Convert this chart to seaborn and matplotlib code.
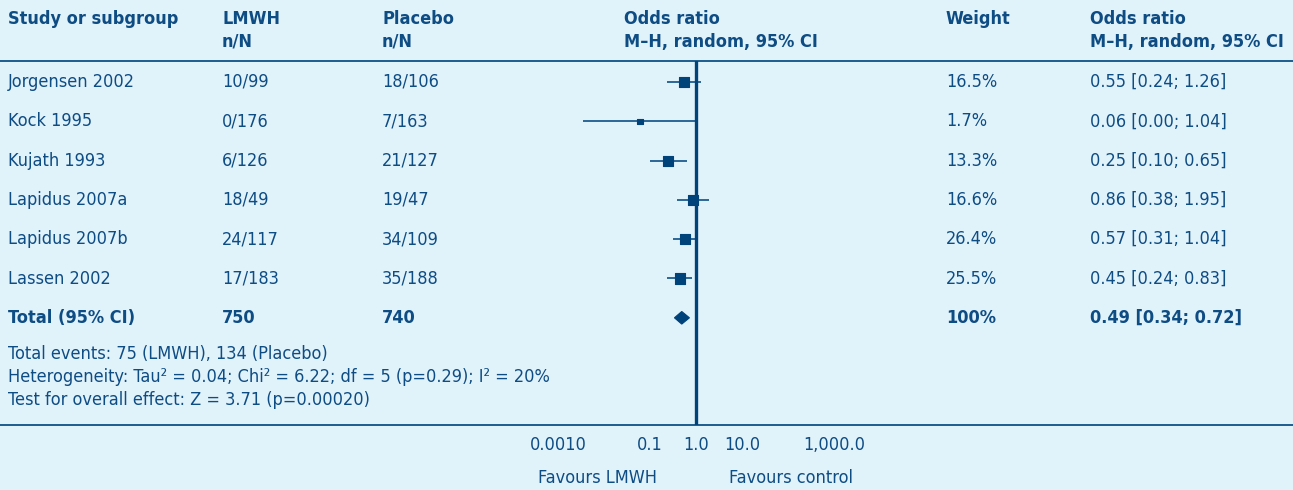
import numpy as np
import pandas as pd
import matplotlib
matplotlib.use("Agg")
import matplotlib.pyplot as plt
from matplotlib.patches import Polygon
from matplotlib import font_manager
import seaborn as sns

# Study-level data
studies = ["Jorgensen 2002", "Kock 1995", "Kujath 1993", "Lapidus 2007a", "Lapidus 2007b", "Lassen 2002"]
lmwh = ["10/99", "0/176", "6/126", "18/49", "24/117", "17/183"]
placebo = ["18/106", "7/163", "21/127", "19/47", "34/109", "35/188"]
odds = [0.55, 0.06, 0.25, 0.86, 0.57, 0.45]
ci_low = [0.24, 0.0035, 0.10, 0.38, 0.31, 0.24]
ci_high = [1.26, 1.04, 0.65, 1.95, 1.04, 0.83]
ci_low_label = ["0.24", "0.00", "0.10", "0.38", "0.31", "0.24"]
weights = [16.5, 1.7, 13.3, 16.6, 26.4, 25.5]

# Pooled result
total_lmwh = "750"
total_placebo = "740"
total_or = 0.49
total_low = 0.34
total_high = 0.72
total_weight = "100%"

footnotes = [
    "Total events: 75 (LMWH), 134 (Placebo)",
    "Heterogeneity: Tau\u00b2 = 0.04; Chi\u00b2 = 6.22; df = 5 (p=0.29); I\u00b2 = 20%",
    "Test for overall effect: Z = 3.71 (p=0.00020)",
]
tick_values = [0.001, 0.1, 1.0, 10.0, 1000.0]
tick_labels = ["0.0010", "0.1", "1.0", "10.0", "1,000.0"]

BG = "#e0f2fa"
INK = "#0e4c84"
LINE = "#1d5c8f"
MARK = "#00427a"

sns.set_theme(style="white")
names = {f.name for f in font_manager.fontManager.ttflist}
narrow = [n for n in ["Liberation Sans Narrow", "DejaVu Sans"] if n in names]
plt.rcParams["font.family"] = narrow + ["DejaVu Sans"]
plt.rcParams["font.stretch"] = "condensed"

W, H = 1293, 490
fig = plt.figure(figsize=(W / 100, H / 100), dpi=100, facecolor=BG)

# Full-figure layer in pixel units for the table text and rules
bg = fig.add_axes([0, 0, 1, 1])
bg.set_xlim(0, W)
bg.set_ylim(H, 0)
bg.axis("off")
bg.set_facecolor(BG)

FS = 13
col_x = dict(study=8, lmwh=222, plac=382, forest=624, weight=946, ortext=1090)
row_y0, row_dy = 82, 39.3
rows_y = [row_y0 + row_dy * i for i in range(len(studies) + 1)]

base = dict(color=INK, fontsize=FS, va="center", ha="left", fontstretch="condensed")
hdr = dict(base, fontweight="bold")
bg.text(col_x["study"], 19, "Study or subgroup", **hdr)
bg.text(col_x["lmwh"], 19, "LMWH", **hdr)
bg.text(col_x["lmwh"], 42, "n/N", **hdr)
bg.text(col_x["plac"], 19, "Placebo", **hdr)
bg.text(col_x["plac"], 42, "n/N", **hdr)
bg.text(col_x["forest"], 19, "Odds ratio", **hdr)
bg.text(col_x["forest"], 42, "M\u2013H, random, 95% CI", **hdr)
bg.text(col_x["weight"], 19, "Weight", **hdr)
bg.text(col_x["ortext"], 19, "Odds ratio", **hdr)
bg.text(col_x["ortext"], 42, "M\u2013H, random, 95% CI", **hdr)

for i, s in enumerate(studies):
    y = rows_y[i]
    bg.text(col_x["study"], y, s, **base)
    bg.text(col_x["lmwh"], y, lmwh[i], **base)
    bg.text(col_x["plac"], y, placebo[i], **base)
    bg.text(col_x["weight"], y, f"{weights[i]:.1f}%", **base)
    bg.text(col_x["ortext"], y, f"{odds[i]:.2f} [{ci_low_label[i]}; {ci_high[i]:.2f}]", **base)

yt = rows_y[-1]
bold = dict(base, fontweight="bold")
bg.text(col_x["study"], yt, "Total (95% CI)", **bold)
bg.text(col_x["lmwh"], yt, total_lmwh, **bold)
bg.text(col_x["plac"], yt, total_placebo, **bold)
bg.text(col_x["weight"], yt, total_weight, **bold)
bg.text(col_x["ortext"], yt, f"{total_or:.2f} [{total_low:.2f}; {total_high:.2f}]", **bold)

for j, line in enumerate(footnotes):
    bg.text(col_x["study"], 354 + 23 * j, line, **base)

bg.hlines([61, 425], 0, W, color=LINE, lw=1.4)
bg.text(538, 478, "Favours LMWH", **base)
bg.text(853, 478, "Favours control", **dict(base, ha="right"))

# Forest plot axes: log scale, 1.0 at x=696 px, ~46 px per decade
ax_left_px, ax_right_px = 540, 870
top_px, bot_px = 61, 425
ax = fig.add_axes([ax_left_px / W, 1 - bot_px / H, (ax_right_px - ax_left_px) / W, (bot_px - top_px) / H])
ax.patch.set_alpha(0)
ax.set_xscale("log")
px_per_dec = 46.0
ax.set_xlim(10 ** ((ax_left_px - 696) / px_per_dec), 10 ** ((ax_right_px - 696) / px_per_dec))
ax.set_ylim((bot_px - row_y0) / row_dy, (top_px - row_y0) / row_dy)

ypos = np.arange(len(studies))
ax.hlines(ypos, ci_low, ci_high, color=LINE, lw=1.3, zorder=2)

df = pd.DataFrame({"study": studies, "odds": odds, "y": ypos, "w": weights})
size_map = {s: (16 if w < 5 else 52) for s, w in zip(studies, weights)}
sns.scatterplot(data=df, x="odds", y="y", size="study", sizes=size_map, marker="s",
                color=MARK, edgecolor=MARK, linewidth=0.8, legend=False, ax=ax, zorder=3)

# Pooled diamond
dy_half = 0.16
ty = len(studies)
diamond = Polygon([[total_low, ty], [total_or, ty - dy_half], [total_high, ty], [total_or, ty + dy_half]],
                  closed=True, facecolor=MARK, edgecolor=MARK, lw=0.8, zorder=3)
ax.add_patch(diamond)

ax.axvline(1.0, color=MARK, lw=2.4, zorder=4)

ax.set_xticks(tick_values)
ax.set_xticklabels(tick_labels, fontstretch="condensed")
ax.xaxis.set_minor_locator(matplotlib.ticker.NullLocator())
ax.tick_params(axis="x", length=0, pad=8, labelsize=FS, labelcolor=INK)
ax.set_yticks([])
for sp in ax.spines.values():
    sp.set_visible(False)
ax.set_xlabel("")
ax.set_ylabel("")

fig.savefig("out.png", dpi=100, facecolor=BG)
